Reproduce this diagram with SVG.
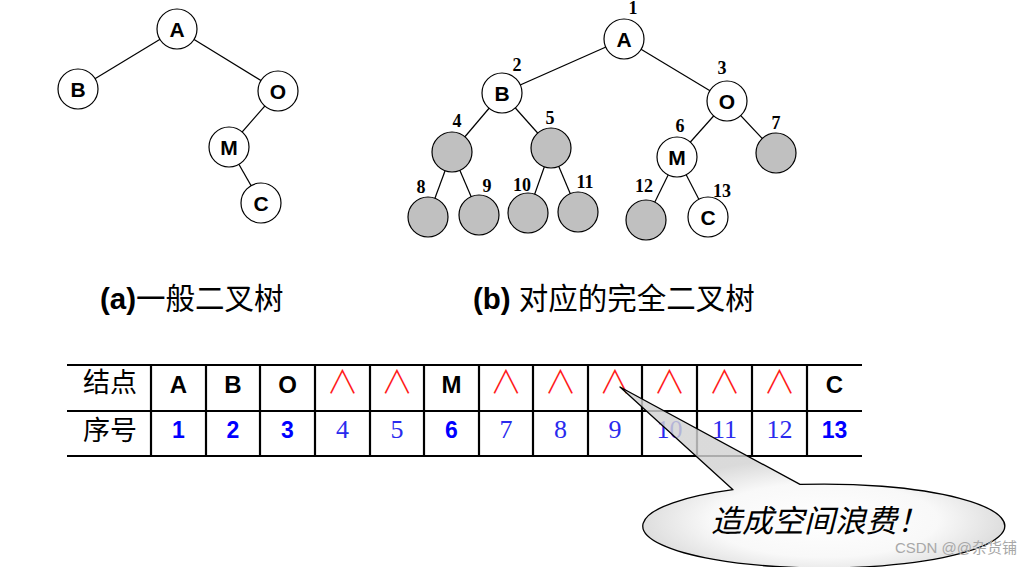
<svg xmlns="http://www.w3.org/2000/svg" width="1033" height="567" viewBox="0 0 1033 567">
<style>
.edge{stroke:#000;stroke-width:1.2;fill:none}
.nw{fill:#fff;stroke:#000;stroke-width:1.2}
.ng{fill:#c0c0c0;stroke:#000;stroke-width:1.2}
.nt{font-family:"Liberation Sans",Arial,sans-serif;font-weight:bold;font-size:21px;text-anchor:middle;fill:#000}
.idx{font-family:"Liberation Serif","Times New Roman",serif;font-weight:bold;font-size:18px;text-anchor:middle;fill:#000}
.cap{font-family:"Liberation Sans","Noto Sans CJK SC",sans-serif;font-size:29.5px;fill:#000}
.tl{stroke:#000;stroke-width:2.2}
.hd{font-family:"Noto Sans CJK SC",sans-serif;font-size:27px;fill:#000;text-anchor:middle}
.r1{font-family:"Liberation Sans",Arial,sans-serif;font-weight:bold;font-size:24px;text-anchor:middle;fill:#000}
.nil{font-family:"Noto Sans CJK SC",sans-serif;font-size:32px;font-weight:300;text-anchor:middle;fill:#ff1a1a}
.nb{font-family:"Liberation Sans",Arial,sans-serif;font-weight:bold;font-size:23px;text-anchor:middle;fill:#0000ff}
.ns{font-family:"Liberation Serif","Times New Roman",serif;font-size:26px;text-anchor:middle;fill:#2a2aee}
</style>
<defs>
<radialGradient id="bub" gradientUnits="userSpaceOnUse" cx="0" cy="0" r="1" gradientTransform="translate(824 520) scale(190 62)">
<stop offset="0" stop-color="#ffffff"/>
<stop offset="0.6" stop-color="#f7f7f7"/>
<stop offset="1" stop-color="#d2d2d2"/>
</radialGradient>
</defs>
<rect width="1033" height="567" fill="#fff"/>

<!-- Left tree -->
<g id="connectors-a">
<line class="edge" x1="177" y1="29" x2="78" y2="89"/>
<line class="edge" x1="177" y1="29" x2="278" y2="91"/>
<line class="edge" x1="278" y1="91" x2="229" y2="147"/>
<line class="edge" x1="229" y1="147" x2="261" y2="203"/>
</g>
<g id="a-A"><circle class="nw" cx="177" cy="29" r="20"/><text class="nt" x="177" y="37">A</text></g>
<g id="a-B"><circle class="nw" cx="78" cy="89" r="20"/><text class="nt" x="78" y="97">B</text></g>
<g id="a-O"><circle class="nw" cx="278" cy="91" r="20"/><text class="nt" x="278" y="99">O</text></g>
<g id="a-M"><circle class="nw" cx="229" cy="147" r="20"/><text class="nt" x="229" y="155">M</text></g>
<g id="a-C"><circle class="nw" cx="261" cy="203" r="20"/><text class="nt" x="261" y="211">C</text></g>

<!-- Right tree -->
<g id="connectors-b">
<line class="edge" x1="624" y1="39" x2="502" y2="93"/>
<line class="edge" x1="624" y1="39" x2="727" y2="101"/>
<line class="edge" x1="502" y1="93" x2="452" y2="152"/>
<line class="edge" x1="502" y1="93" x2="551" y2="148"/>
<line class="edge" x1="727" y1="101" x2="677" y2="157"/>
<line class="edge" x1="727" y1="101" x2="776" y2="153"/>
<line class="edge" x1="452" y1="152" x2="428" y2="217"/>
<line class="edge" x1="452" y1="152" x2="479" y2="215"/>
<line class="edge" x1="551" y1="148" x2="528" y2="213"/>
<line class="edge" x1="551" y1="148" x2="578" y2="212"/>
<line class="edge" x1="677" y1="157" x2="646" y2="220"/>
<line class="edge" x1="677" y1="157" x2="708" y2="217"/>
</g>
<g id="b-1"><circle class="nw" cx="624" cy="39" r="20"/><text class="nt" x="624" y="47">A</text><text class="idx" x="633" y="14">1</text></g>
<g id="b-2"><circle class="nw" cx="502" cy="93" r="20"/><text class="nt" x="502" y="101">B</text><text class="idx" x="517" y="71">2</text></g>
<g id="b-3"><circle class="nw" cx="727" cy="101" r="20"/><text class="nt" x="727" y="109">O</text><text class="idx" x="722" y="74">3</text></g>
<g id="b-4"><circle class="ng" cx="452" cy="152" r="20"/><text class="idx" x="457" y="127">4</text></g>
<g id="b-5"><circle class="ng" cx="551" cy="148" r="20"/><text class="idx" x="550" y="124">5</text></g>
<g id="b-6"><circle class="nw" cx="677" cy="157" r="20"/><text class="nt" x="677" y="165">M</text><text class="idx" x="680" y="132">6</text></g>
<g id="b-7"><circle class="ng" cx="776" cy="153" r="20"/><text class="idx" x="776" y="129">7</text></g>
<g id="b-8"><circle class="ng" cx="428" cy="217" r="20"/><text class="idx" x="421" y="193">8</text></g>
<g id="b-9"><circle class="ng" cx="479" cy="215" r="20"/><text class="idx" x="487" y="192">9</text></g>
<g id="b-10"><circle class="ng" cx="528" cy="213" r="20"/><text class="idx" x="522" y="191">10</text></g>
<g id="b-11"><circle class="ng" cx="578" cy="212" r="20"/><text class="idx" x="585" y="188">11</text></g>
<g id="b-12"><circle class="ng" cx="646" cy="220" r="20"/><text class="idx" x="644" y="192">12</text></g>
<g id="b-13"><circle class="nw" cx="708" cy="217" r="20"/><text class="nt" x="708" y="225">C</text><text class="idx" x="722" y="197">13</text></g>

<!-- Captions -->
<text class="cap" x="100" y="309"><tspan font-weight="bold">(a)</tspan>一般二叉树</text>
<text class="cap" x="473" y="309"><tspan font-weight="bold">(b)</tspan> 对应的完全二叉树</text>

<!-- Table -->
<g id="table">
<line class="tl" x1="67" y1="365" x2="862" y2="365"/>
<line class="tl" x1="67" y1="411" x2="862" y2="411"/>
<line class="tl" x1="67" y1="456" x2="862" y2="456"/>
<line class="tl" x1="151" y1="365" x2="151" y2="456"/>
<line class="tl" x1="206" y1="365" x2="206" y2="456"/>
<line class="tl" x1="260" y1="365" x2="260" y2="456"/>
<line class="tl" x1="315" y1="365" x2="315" y2="456"/>
<line class="tl" x1="370" y1="365" x2="370" y2="456"/>
<line class="tl" x1="424" y1="365" x2="424" y2="456"/>
<line class="tl" x1="479" y1="365" x2="479" y2="456"/>
<line class="tl" x1="533" y1="365" x2="533" y2="456"/>
<line class="tl" x1="588" y1="365" x2="588" y2="456"/>
<line class="tl" x1="642" y1="365" x2="642" y2="456"/>
<line class="tl" x1="697" y1="365" x2="697" y2="456"/>
<line class="tl" x1="752" y1="365" x2="752" y2="456"/>
<line class="tl" x1="807" y1="365" x2="807" y2="456"/>
<text class="hd" x="110" y="392">结点</text>
<text class="hd" x="110" y="440">序号</text>
<text class="r1" x="178.5" y="393">A</text>
<text class="r1" x="233" y="393">B</text>
<text class="r1" x="287.5" y="393">O</text>
<text class="nil" x="342.5" y="393">∧</text>
<text class="nil" x="397" y="393">∧</text>
<text class="r1" x="451.5" y="393">M</text>
<text class="nil" x="506" y="393">∧</text>
<text class="nil" x="560.5" y="393">∧</text>
<text class="nil" x="615" y="393">∧</text>
<text class="nil" x="669.5" y="393">∧</text>
<text class="nil" x="724.5" y="393">∧</text>
<text class="nil" x="779.5" y="393">∧</text>
<text class="r1" x="834.5" y="393">C</text>
<text class="nb" x="178.5" y="438">1</text>
<text class="nb" x="233" y="438">2</text>
<text class="nb" x="287.5" y="438">3</text>
<text class="ns" x="342.5" y="438">4</text>
<text class="ns" x="397" y="438">5</text>
<text class="nb" x="451.5" y="438">6</text>
<text class="ns" x="506" y="438">7</text>
<text class="ns" x="560.5" y="438">8</text>
<text class="ns" x="615" y="438">9</text>
<text class="ns" x="669.5" y="438">10</text>
<text class="ns" x="724.5" y="438">11</text>
<text class="ns" x="779.5" y="438">12</text>
<text class="nb" x="834.5" y="438">13</text>
</g>

<!-- Callout -->
<g id="callout">
<path d="M733,489.7 A181,42 0 1 0 800,484.4 L620,387 Z" fill="url(#bub)" fill-opacity="0.82" stroke="#000" stroke-width="1.3" stroke-linejoin="round"/>
<text x="711" y="532" font-family="'Noto Sans CJK SC',sans-serif" font-size="31px" font-style="italic" fill="#000">造成空间浪费！</text>
</g>

<text x="1017" y="553" font-family="'Liberation Sans','Noto Sans CJK SC',sans-serif" font-size="15px" text-anchor="end" fill="#a8a8a8">CSDN @@杂货铺</text>
</svg>
